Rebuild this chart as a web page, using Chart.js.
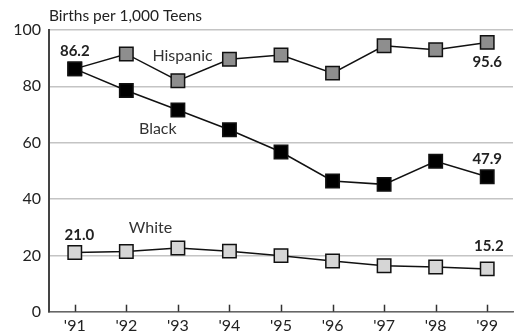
<!DOCTYPE html>
<html><head><meta charset="utf-8">
<script src="https://cdn.jsdelivr.net/npm/chart.js@4.4.1/dist/chart.umd.min.js"></script>
<style>html,body{margin:0;padding:0;background:#fff}#wrap{width:524px;height:331px;position:relative}</style>
</head><body><div id="wrap"><canvas id="c"></canvas></div>
<script>
const years = ["'91","'92","'93","'94","'95","'96","'97","'98","'99"];
const hispanic = [86.2, 91.5, 82.0, 89.6, 91.1, 84.7, 94.4, 93.0, 95.6];
const black = [86.2, 78.5, 71.6, 64.6, 56.7, 46.4, 45.2, 53.4, 47.9];
const white = [21.0, 21.4, 22.6, 21.5, 19.9, 18.0, 16.3, 15.9, 15.2];
const yTicks = [0, 20, 40, 60, 80, 100];
const axisTitle = "Births per 1,000 Teens";
// [text, x index, y value, bold]
const annotations = [
  ["Hispanic", 2.09, 90.8, false],
  ["Black", 1.61, 64.9, false],
  ["White", 1.47, 29.7, false],
  ["86.2", 0.0, 92.4, true],
  ["21.0", 0.09, 27.3, true],
  ["95.6", 8.0, 88.6, true],
  ["47.9", 8.0, 54.3, true],
  ["15.2", 8.03, 23.1, true]
];
const FONT = "Lato, 'Noto Sans', sans-serif";

const overlay = {
  id: 'overlay',
  afterDraw(chart) {
    const ctx = chart.ctx, xs = chart.scales.x, ys = chart.scales.y, ca = chart.chartArea;
    ctx.save();
    ctx.strokeStyle = '#333'; ctx.lineWidth = 1.5;
    years.forEach((_, i) => {
      const px = Math.round(xs.getPixelForValue(i)) + 0.5;
      ctx.beginPath(); ctx.moveTo(px, ca.bottom); ctx.lineTo(px, ca.bottom - 7); ctx.stroke();
    });
    ctx.fillStyle = '#222';
    ctx.font = '15.5px ' + FONT;
    ctx.textAlign = 'left'; ctx.textBaseline = 'middle';
    ctx.fillText(axisTitle, ca.left, 16);
    annotations.forEach(([t, xi, yv, b]) => {
      ctx.font = (b ? 'bold 15px ' : '16px ') + FONT;
      ctx.textAlign = 'center'; ctx.textBaseline = 'middle';
      ctx.fillStyle = b ? '#222' : '#333';
      ctx.fillText(t, xs.getPixelForValue(xi), ys.getPixelForValue(yv));
    });
    ctx.restore();
  }
};

function ds(label, data, fill) {
  return {
    label, data,
    borderColor: '#111', borderWidth: 1.5,
    pointStyle: 'rect', pointRadius: 9.5, pointHoverRadius: 9.5,
    pointBackgroundColor: fill, pointBorderColor: '#111', pointBorderWidth: 1.5,
    tension: 0, clip: false
  };
}

new Chart(document.getElementById('c'), {
  type: 'line',
  data: {
    labels: years,
    datasets: [ds('White', white, '#d6d6d6'), ds('Black', black, '#000'), ds('Hispanic', hispanic, '#8e8e8e')]
  },
  options: {
    responsive: true, maintainAspectRatio: false, animation: false,
    devicePixelRatio: 1,
    layout: { padding: { top: 30, right: 0, left: 0, bottom: 0 } },
    plugins: { legend: { display: false }, tooltip: { enabled: false } },
    scales: {
      x: {
        offset: true,
        grid: { display: false, drawTicks: false },
        border: { display: true, color: '#666', width: 1.5 },
        ticks: { color: '#222', font: { family: FONT, size: 16 }, padding: 5, maxRotation: 0 },
        afterFit(s) { s.height = 19.3; }
      },
      y: {
        min: 0, max: 100,
        afterBuildTicks(s) { s.ticks = yTicks.map(v => ({ value: v })); },
        grid: { color: '#c4c4c4', lineWidth: 1.5, drawTicks: false },
        border: { display: true, color: '#444', width: 2 },
        ticks: { color: '#222', font: { family: FONT, size: 16 }, padding: 8 },
        afterFit(s) { s.width = 49; }
      }
    }
  },
  plugins: [overlay]
});
</script></body></html>
